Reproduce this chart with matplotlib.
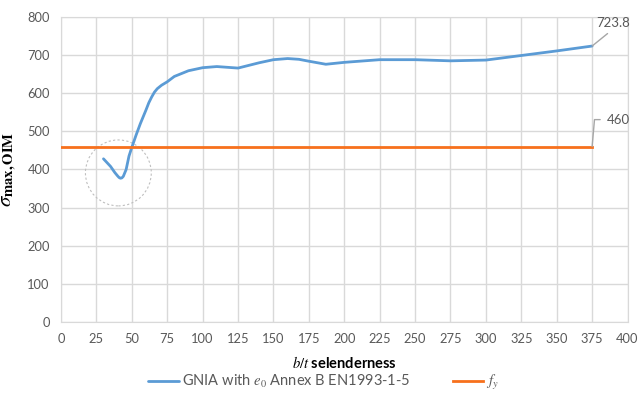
import numpy as np
import matplotlib
matplotlib.use("Agg")
import matplotlib.pyplot as plt
from matplotlib.patches import Ellipse

plt.rcParams['font.family'] = ['Lato', 'DejaVu Sans']
plt.rcParams['mathtext.fontset'] = 'stix'

# slenderness b/t and max stress from GNIA (e0 per Annex B EN1993-1-5)
bt = [30, 35, 38, 40, 41, 42, 43, 44, 46, 48, 50, 53, 56, 60, 62, 64, 66,
      68, 71, 75, 80, 90, 100, 110, 125, 140, 150, 160, 168, 175, 187, 200,
      225, 250, 275, 300, 325, 350, 375]
sigma = [428, 408, 392, 383, 379, 377, 378, 382, 400, 435, 458, 490, 520,
         556, 575, 590, 603, 612, 621, 630, 644, 659, 667, 670, 666, 680,
         688, 691, 689, 684, 676, 681, 688, 688, 685, 687, 699, 711, 723.8]

# yield strength line
fy_x = [0, 375]
fy = [460, 460]

blue = '#5b9bd5'
orange = '#f7701c'
grid = '#d9d9d9'
txt = '#595959'

fig = plt.figure(figsize=(6.38, 3.95), dpi=100)
ax = fig.add_axes([0.0956, 0.1848, 0.888, 0.7722])

ax.plot(bt, sigma, color=blue, lw=2, solid_capstyle='round',
        solid_joinstyle='round',
        label=r'GNIA with $e_0$ Annex B EN1993-1-5', zorder=3)
ax.plot(fy_x, fy, color=orange, lw=2, label=r'$f_y$', zorder=3)

ax.set_xlim(0, 400)
ax.set_ylim(0, 800)
ax.set_xticks(np.arange(0, 401, 25))
ax.set_yticks(np.arange(0, 801, 100))
ax.grid(True, color=grid, lw=1)
ax.set_axisbelow(True)
for s in ax.spines.values():
    s.set_color(grid)
ax.tick_params(length=0, colors=txt, labelsize=9.3, pad=8)

# dashed circle around the dip
ax.add_patch(Ellipse((40.5, 391), 46.5, 173, fill=False, ls=(0, (2, 2)),
                     lw=0.8, ec='#bfbfbf', zorder=2))

# value labels at the last point
ax.annotate('723.8', xy=(bt[-1], sigma[-1]), xytext=(21, 23),
            textcoords='offset pixels', ha='center', va='center',
            fontsize=9.5, color=txt,
            arrowprops=dict(arrowstyle='-', color='#a6a6a6', lw=1,
                            relpos=(0.5, 0), shrinkA=2, shrinkB=0))
ax.annotate('460', xy=(fy_x[-1], fy[-1]), xytext=(15, 27),
            textcoords='offset pixels', ha='left', va='center',
            fontsize=9.5, color=txt,
            arrowprops=dict(arrowstyle='-', color='#a6a6a6', lw=1,
                            relpos=(0, 0.5), shrinkA=3, shrinkB=0,
                            connectionstyle='angle,angleA=0,angleB=85,rad=0'))

ax.set_xlabel(r'$\mathit{b/t}$ selenderness', fontsize=10.5, fontweight='bold',
              color='black', labelpad=7)
ax.set_ylabel(r'$\sigma_{\mathbf{max,OIM}}$', fontsize=15, color='black',
              labelpad=6)

fig.legend(loc='center', bbox_to_anchor=(0.507, 0.032), ncol=2, frameon=False,
           fontsize=10.5, handlelength=2.1, columnspacing=2.9, handletextpad=0.2,
           labelcolor=txt)

fig.savefig('out.png', dpi=100)
